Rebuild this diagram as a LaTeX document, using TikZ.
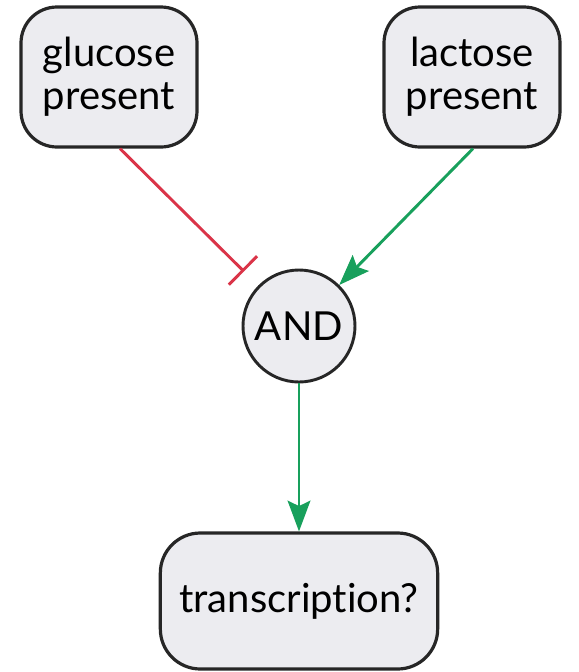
\documentclass[tikz,border=0pt]{standalone}
\usepackage{fontspec}
\setmainfont{Lato}[Ligatures={NoCommon}]
\usetikzlibrary{arrows.meta,calc}
\definecolor{boxfill}{RGB}{236,236,240}
\definecolor{inhibred}{RGB}{218,52,72}
\definecolor{actgreen}{RGB}{24,160,92}
\begin{document}
\begin{tikzpicture}[x=0.75pt,y=-0.75pt,
  statebox/.style={draw=black!85,line width=2.4pt,fill=boxfill,rounded corners=27pt,
    align=center,minimum width=132pt,minimum height=105pt,inner sep=0pt,
    font=\fontsize{30}{32}\selectfont},
  gate/.style={draw=black!85,line width=2.2pt,fill=boxfill,circle,minimum size=84pt,
    inner sep=0pt,font=\fontsize{30}{32}\selectfont},
  activate/.style={draw=actgreen,line width=2.2pt,
    -{Stealth[length=23pt,width=17pt,inset=4pt]}},
  repress/.style={draw=inhibred,line width=2.2pt,-{Bar[width=30pt,length=2.2pt]}}]
  \useasboundingbox (0,0) rectangle (579,672);
  \node[statebox] (glu) at (109,77) {glucose\\present};
  \node[statebox] (lac) at (472,77) {lactose\\present};
  \node[gate] (and) at (299,326) {AND};
  \node[statebox,minimum width=208pt,minimum height=102pt,rounded corners=30pt]
    (tr) at (299,601) {transcription?};
  \draw[repress,shorten >=15pt] ($(glu.south)+(11,0)$) -- (and);
  \draw[activate] ($(lac.south)+(1,0)$) -- (and);
  \draw[activate] (and.south) -- (tr.north);
\end{tikzpicture}
\end{document}
